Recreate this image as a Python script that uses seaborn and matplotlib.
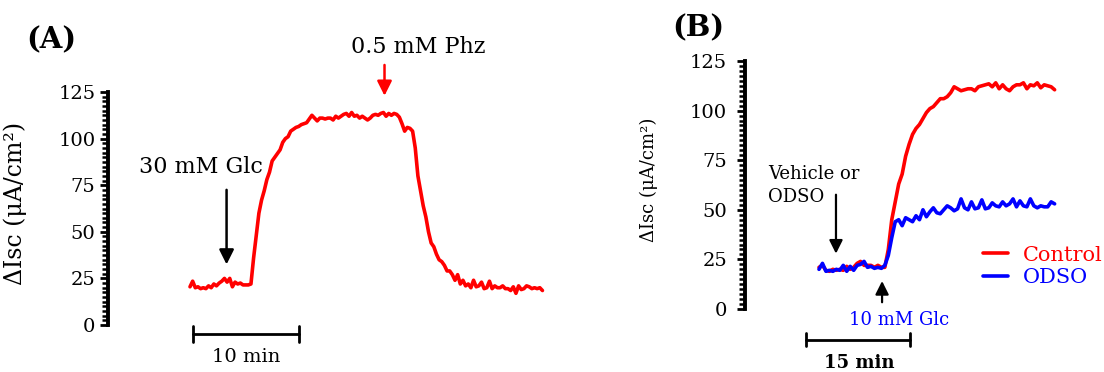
import numpy as np
import pandas as pd
import matplotlib
matplotlib.use("Agg")
import matplotlib.pyplot as plt
import seaborn as sns
from matplotlib.ticker import MultipleLocator
from matplotlib.lines import Line2D

# ---------------- data ----------------
# Panel A: short-circuit current trace (sampled every 0.25 min)
step_a = 0.25
isc_a = [20.5, 23.5, 20, 20.5, 19.5, 20, 19.5, 21, 20, 22, 21, 22.5, 23.5, 25, 23, 25,
         20.5, 23, 22, 22.5, 21.5, 21.5, 21.5, 22,
         36, 48, 60, 67, 72, 78, 82, 88, 90, 92, 94, 98, 100, 101, 104, 105, 106, 106.5,
         107.5, 108, 108.5, 110.5, 112.5, 111, 109.5, 111, 111, 110.5, 111, 111, 110, 112,
         111, 112, 113, 113.5, 112, 114, 112, 112.5, 111, 112, 111, 110, 111, 112.5, 113,
         112.5, 113.5, 114, 112, 113.5, 112.5, 113.5, 113, 111.5, 108, 104, 106, 105.5,
         104, 95, 80, 72, 64, 58, 50, 44, 42, 38, 35, 34, 32, 29, 29, 27, 24, 27, 22, 24,
         21, 22, 20, 24, 20.5, 21, 23, 19.5, 20, 23.5, 19.5, 21, 20, 20, 21, 19.5, 19.5,
         18.5, 20.5, 17, 21, 19, 19.5, 21, 20.5, 19.5, 20, 19.5, 20, 18.5]

# Panel B: Control vs ODSO traces (sampled every 0.5 min)
step_b = 0.5
isc_control = [21, 22, 19.5, 19, 20, 19.5, 20, 19.5, 21.5, 20, 21, 23, 24, 22, 22, 22,
               21, 22, 21, 21, 30, 45, 54, 63, 68, 77, 83, 88, 91, 93, 96, 99, 101, 102,
               104, 106, 106, 107, 109, 112, 111, 110, 110.5, 111, 111, 110, 112, 112.5,
               113, 113.5, 112, 114, 111, 113, 111, 110, 112, 113, 113, 114, 111, 113,
               112.5, 114, 111.5, 113, 112.5, 112, 110.5]
isc_odso = [20, 23, 19, 19.5, 19, 20, 19.5, 22, 19, 21.5, 19.5, 22, 22.5, 24, 21, 21.5,
            20.5, 21, 20.5, 22, 27, 36, 44, 45, 42, 46, 45, 44, 47, 45, 50, 46.5, 49, 51,
            48.5, 48, 50, 52, 51, 49.5, 50.5, 55.5, 51, 50, 54, 50.5, 51, 55, 50.5, 51,
            53.5, 52, 51.5, 54, 52, 53, 55.5, 51.5, 54.5, 52, 51.5, 55.5, 52, 51, 52,
            51.5, 51.5, 54, 53]
groups = ["Control", "ODSO"]
group_colors = ["#ff0000", "#0000ff"]

yticks = [0, 25, 50, 75, 100, 125]
ylabel = "\u0394Isc (\u03bcA/cm\u00b2)"

time_a = np.arange(len(isc_a)) * step_a
df_a = pd.DataFrame({"time": time_a, "isc": isc_a})
df_b = pd.concat([
    pd.DataFrame({"time": np.arange(len(isc_control)) * step_b, "isc": isc_control, "group": groups[0]}),
    pd.DataFrame({"time": np.arange(len(isc_odso)) * step_b, "isc": isc_odso, "group": groups[1]}),
], ignore_index=True)

# ---------------- figure ----------------
sns.set_theme(style="ticks")
plt.rcParams["font.family"] = ["DejaVu Serif"]
plt.rcParams["text.color"] = "black"
plt.rcParams["axes.labelcolor"] = "black"
plt.rcParams["xtick.color"] = "black"
plt.rcParams["ytick.color"] = "black"
plt.rcParams["axes.edgecolor"] = "black"

W, H = 1104, 372
fig = plt.figure(figsize=(W / 100, H / 100), dpi=100)
axA = fig.add_axes([108 / W, 1 - 325 / H, 452 / W, 233 / H])
axB = fig.add_axes([745 / W, 1 - 309 / H, 355 / W, 248 / H])


def style(ax, pad):
    sns.despine(ax=ax, top=True, right=True, bottom=True)
    ax.spines["left"].set_linewidth(2.8)
    ax.spines["left"].set_color("black")
    ax.set_ylim(0, 125)
    ax.set_yticks(yticks)
    ax.yaxis.set_minor_locator(MultipleLocator(2.5))
    ax.tick_params(axis="y", which="major", length=6, width=2.0, pad=pad,
                   labelsize=14, direction="out", color="black", labelcolor="black")
    ax.tick_params(axis="y", which="minor", length=4, width=1.8, color="black")
    ax.set_xticks([])
    ax.set_xlabel("")
    ax.patch.set_alpha(0)


# ---- Panel A ----
sns.lineplot(data=df_a, x="time", y="isc", color="#ff0000", lw=2.6, ax=axA,
             estimator=None)
axA.set_xlim(-(190 - 108) / 10.6, (560 - 190) / 10.6)
style(axA, pad=3)
axA.set_ylabel(ylabel, fontsize=17, color="black")
axA.yaxis.set_label_coords(-0.18, 0.52)

axA.annotate("", xy=(3.45, 31), xytext=(3.45, 74), annotation_clip=False,
             arrowprops=dict(arrowstyle="-|>", color="black", lw=1.8, mutation_scale=22))
axA.text(1.04, 85, "30 mM Glc", fontsize=16, ha="center", va="center", color="black")
axA.annotate("", xy=(18.35, 121.5), xytext=(18.35, 141), annotation_clip=False,
             arrowprops=dict(arrowstyle="-|>", color="#ff0000", lw=1.8, mutation_scale=22))
axA.text(21.5, 149, "0.5 mM Phz", fontsize=16, ha="center", va="center", clip_on=False,
         color="black")

# scale bar 10 min
axA.plot([0.28, 10.28], [-4.8, -4.8], color="black", lw=2, clip_on=False)
axA.plot([0.28, 0.28], [-0.8, -9.0], color="black", lw=2, clip_on=False)
axA.plot([10.28, 10.28], [-0.8, -9.0], color="black", lw=2, clip_on=False)
axA.text(5.28, -17.2, "10 min", fontsize=14, ha="center", va="center", clip_on=False,
         color="black")

fig.text(26 / W, 1 - 40 / H, "(A)", fontsize=21, fontweight="bold", ha="left",
         va="center", color="black")

# ---- Panel B ----
sns.lineplot(data=df_b, x="time", y="isc", hue="group", hue_order=groups,
             palette=dict(zip(groups, group_colors)), lw=2.6, ax=axB,
             estimator=None, legend=False)
axB.set_xlim(-(819 - 745) / 6.93, (1100 - 819) / 6.93)
style(axB, pad=7)
axB.set_ylabel(ylabel, fontsize=13, color="black")
axB.yaxis.set_label_coords(-0.245, 0.52)

axB.annotate("", xy=(2.45, 26.5), xytext=(2.45, 59), annotation_clip=False,
             arrowprops=dict(arrowstyle="-|>", color="black", lw=1.6, mutation_scale=20))
axB.text(-7.36, 72.6, "Vehicle or\nODSO", fontsize=13, ha="left", va="top",
         linespacing=1.35, color="black")
axB.annotate("", xy=(9.1, 15.5), xytext=(9.1, 2), annotation_clip=False,
             arrowprops=dict(arrowstyle="-|>", color="black", lw=1.6, mutation_scale=20))
axB.text(11.6, -5.5, "10 mM Glc", fontsize=13, color="#0000ff", ha="center",
         va="center", clip_on=False)

# scale bar 15 min
axB.plot([-1.93, 13.07], [-15.6, -15.6], color="black", lw=2, clip_on=False)
axB.plot([-1.93, -1.93], [-12.3, -18.9], color="black", lw=2, clip_on=False)
axB.plot([13.07, 13.07], [-12.3, -18.9], color="black", lw=2, clip_on=False)
axB.text(5.75, -27.2, "15 min", fontsize=13, fontweight="bold", ha="center",
         va="center", clip_on=False, color="black")

handles = [Line2D([], [], color=c, lw=2.6) for c in group_colors]
leg = axB.legend(handles, groups, loc="upper left", bbox_to_anchor=(0.67, 0.255),
                 frameon=False, fontsize=15, handlelength=1.2, handletextpad=0.7,
                 borderpad=0, borderaxespad=0, labelspacing=0.15)
for t, c in zip(leg.get_texts(), group_colors):
    t.set_color(c)

fig.text(672 / W, 1 - 28 / H, "(B)", fontsize=21, fontweight="bold", ha="left",
         va="center", color="black")

fig.savefig("out.png", dpi=100)
